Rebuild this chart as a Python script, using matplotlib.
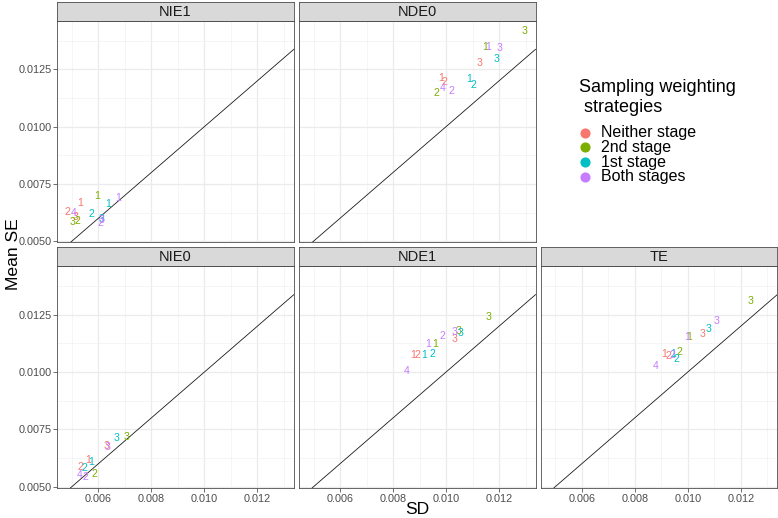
import matplotlib
matplotlib.use('Agg')
import matplotlib.pyplot as plt
from matplotlib.lines import Line2D
from matplotlib.ticker import FixedLocator

plt.rcParams['font.family'] = ['Liberation Sans', 'DejaVu Sans']

W, H = 778, 518

# ---------------- data ----------------
strategies = ["Neither stage", "2nd stage", "1st stage", "Both stages"]
colors = ["#F8766D", "#7CAE00", "#00BFC4", "#C77CFF"]
panels = ["NIE1", "NDE0", "NIE0", "NDE1", "TE"]

pt_panel = (["NIE1"] * 13 + ["NDE0"] * 13 + ["NIE0"] * 11 + ["NDE1"] * 13 + ["TE"] * 13)
pt_group = [0, 0, 0, 1, 1, 1, 2, 2, 2, 3, 3, 3, 3,
            0, 0, 0, 1, 1, 1, 2, 2, 2, 3, 3, 3, 3,
            0, 0, 0, 1, 1, 2, 2, 2, 3, 3, 3,
            0, 0, 0, 1, 1, 1, 2, 2, 2, 3, 3, 3, 3,
            0, 0, 0, 1, 1, 1, 2, 2, 2, 3, 3, 3, 3]
pt_label = ["2", "1", "3", "1", "3", "2", "1", "2", "3", "1", "4", "2", "3",
            "1", "2", "3", "1", "2", "3", "1", "2", "3", "1", "2", "3", "4",
            "1", "2", "3", "2", "3", "1", "2", "3", "2", "3", "4",
            "1", "2", "3", "1", "3", "3", "1", "2", "3", "1", "2", "3", "4",
            "1", "2", "3", "1", "2", "3", "1", "2", "3", "1", "2", "3", "4"]
pt_sd = [0.004835, 0.005312, 0.005150, 0.005940, 0.005038, 0.005211, 0.006376, 0.005752, 0.006102,
         0.006752, 0.005060, 0.006064, 0.006110,
         0.009797, 0.009921, 0.011263, 0.011477, 0.009635, 0.012955, 0.010861, 0.011038, 0.011914,
         0.011575, 0.010199, 0.012015, 0.009861,
         0.005602, 0.005338, 0.006310, 0.005838, 0.007068, 0.005726, 0.005474, 0.006692,
         0.005526, 0.006340, 0.005312,
         0.008744, 0.008921, 0.010323, 0.009598, 0.010462, 0.011610, 0.009184, 0.009496, 0.010549,
         0.009308, 0.009846, 0.010300, 0.008508,
         0.009090, 0.009252, 0.010556, 0.010041, 0.009665, 0.012372, 0.009440, 0.009564, 0.010782,
         0.009955, 0.009414, 0.011083, 0.008789]
pt_se = [0.006252, 0.006671, 0.006060, 0.006976, 0.005842, 0.005873, 0.006601, 0.006165, 0.005960,
         0.006889, 0.006209, 0.005772, 0.005930,
         0.012099, 0.011950, 0.012753, 0.013451, 0.011470, 0.014175, 0.012068, 0.011806, 0.012927,
         0.013451, 0.011545, 0.013408, 0.011675,
         0.006159, 0.005854, 0.006770, 0.005536, 0.007178, 0.006089, 0.005797, 0.007104,
         0.005418, 0.006740, 0.005505,
         0.010719, 0.010719, 0.011429, 0.011198, 0.011777, 0.012404, 0.010749, 0.010775, 0.011707,
         0.011198, 0.011559, 0.011750, 0.010035,
         0.010793, 0.010675, 0.011646, 0.011516, 0.010849, 0.013114, 0.010793, 0.010557, 0.011864,
         0.011516, 0.010736, 0.012213, 0.010240]

x_major = [0.006, 0.008, 0.010, 0.012]
y_major = [0.0050, 0.0075, 0.0100, 0.0125]
x_tick_labels = ["0.006", "0.008", "0.010", "0.012"]
y_tick_labels = ["0.0050", "0.0075", "0.0100", "0.0125"]

# ---------------- layout ----------------
fig = plt.figure(figsize=(W / 100, H / 100), dpi=100)
fig.patch.set_facecolor('white')

col_left = [57.3, 299.0, 540.7]
pw = 236.5
rows = [(20.7, 242.3, 1.5), (266.0, 487.8, 246.7)]  # panel top, panel bottom, strip top
layout = {"NIE1": (0, 0), "NDE0": (0, 1), "NIE0": (1, 0), "NDE1": (1, 1), "TE": (1, 2)}

border = '#4d4d4d'
grid_c = '#EBEBEB'


def rect(x0, y_top, w, h):
    return [x0 / W, 1 - (y_top + h) / H, w / W, h / H]


for pname in panels:
    r, c = layout[pname]
    ptop, pbot, stop = rows[r]
    ax = fig.add_axes(rect(col_left[c], ptop, pw, pbot - ptop))
    ax.set_xlim(0.00445, 0.01337)
    ax.set_ylim(0.00495, 0.01462)
    ax.set_facecolor('white')
    ax.xaxis.set_major_locator(FixedLocator(x_major))
    ax.yaxis.set_major_locator(FixedLocator(y_major))
    ax.xaxis.set_minor_locator(FixedLocator([0.005, 0.007, 0.009, 0.011, 0.013]))
    ax.yaxis.set_minor_locator(FixedLocator([0.00625, 0.00875, 0.01125, 0.01375]))
    ax.grid(which='major', color=grid_c, lw=0.9, zorder=0)
    ax.grid(which='minor', color='#F2F2F2', lw=0.5, zorder=0)
    ax.set_axisbelow(True)
    for s in ax.spines.values():
        s.set_color(border)
        s.set_linewidth(0.6)
    ax.tick_params(which='minor', length=0)
    ax.tick_params(which='major', length=3.0, width=0.5, color='#333333',
                   labelsize=7.8, labelcolor='#4D4D4D', pad=1.2)
    if c == 0:
        ax.set_yticklabels(y_tick_labels)
    else:
        ax.tick_params(axis='y', length=0, labelleft=False)
    if r == 1:
        ax.set_xticklabels(x_tick_labels)
    else:
        ax.tick_params(axis='x', length=0, labelbottom=False)

    ax.axline((0.005, 0.005), slope=1, color='#1a1a1a', lw=0.6, zorder=2)

    for p, g, lab, sd, se in zip(pt_panel, pt_group, pt_label, pt_sd, pt_se):
        if p == pname:
            ax.text(sd, se, lab, color=colors[g], fontsize=7.6, ha='center', va='center',
                    zorder=3, clip_on=True)

    # strip
    sax = fig.add_axes(rect(col_left[c], stop, pw, ptop - stop))
    sax.set_facecolor('#D9D9D9')
    sax.set_xticks([])
    sax.set_yticks([])
    for s in sax.spines.values():
        s.set_color(border)
        s.set_linewidth(0.6)
    sax.text(0.5, 0.47, pname, ha='center', va='center', fontsize=10.5, color='#1A1A1A',
             transform=sax.transAxes)

# axis titles
fig.text(417 / W, 1 - 510 / H, "SD", ha='center', va='center', fontsize=12.6, color='black')
fig.text(14 / W, 1 - 254 / H, "Mean SE", ha='center', va='center', rotation=90,
         fontsize=12.6, color='black')

# legend
fig.text(579 / W, 1 - 88 / H, "Sampling weighting", ha='left', va='center', fontsize=13, color='black')
fig.text(579 / W, 1 - 107 / H, " strategies", ha='left', va='center', fontsize=13, color='black')
leg_y = [132.7, 147.4, 162.1, 176.8]
for name, col, yy in zip(strategies, colors, leg_y):
    fig.add_artist(Line2D([585 / W], [1 - yy / H], marker='o', markersize=6.3, color=col,
                          linestyle='', transform=fig.transFigure))
    fig.text(601 / W, 1 - yy / H, name, ha='left', va='center', fontsize=11.5, color='black')

fig.savefig('out.png', dpi=100, facecolor='white')
